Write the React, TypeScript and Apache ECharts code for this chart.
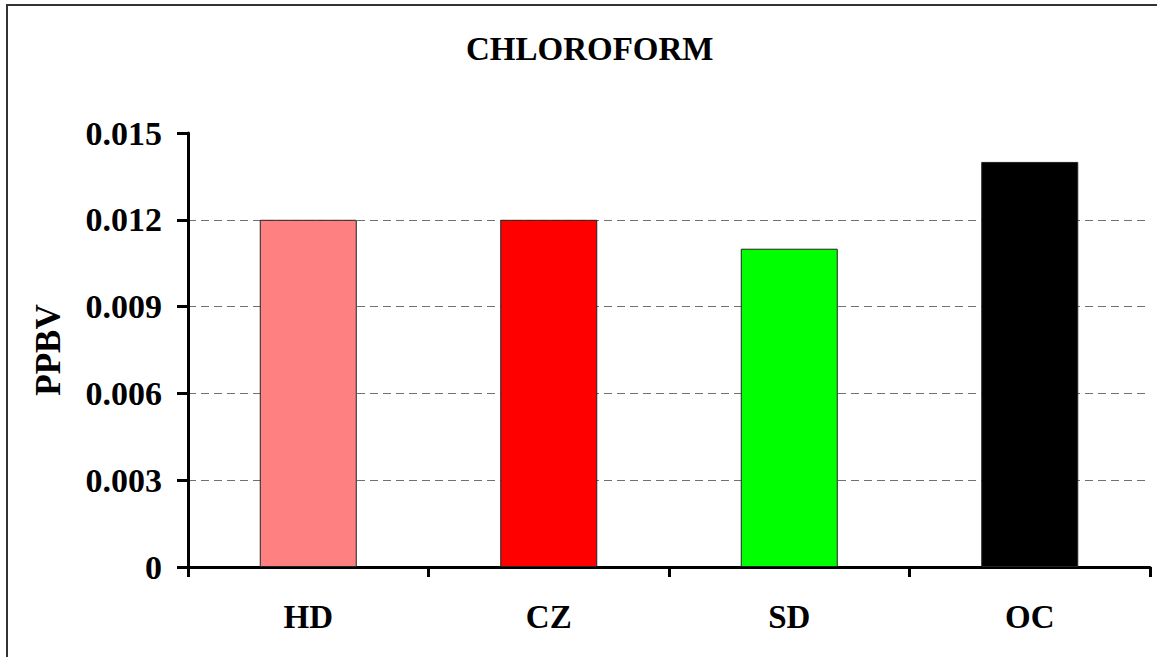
import React, { useEffect, useRef } from "react";
import * as echarts from "echarts";

const categories = ["HD", "CZ", "SD", "OC"];
const values = [0.012, 0.012, 0.011, 0.014];
const barColors = ["#FF8080", "#FF0000", "#00FF00", "#000000"];
const yTicks = { min: 0, max: 0.015, interval: 0.003 };
const titleText = "CHLOROFORM";
const yName = "PPBV";

const FONT = "'Liberation Serif', 'Times New Roman', serif";

export default function App() {
  const ref = useRef<HTMLDivElement>(null);
  useEffect(() => {
    if (!ref.current) return;
    const chart = echarts.init(ref.current, null, { renderer: "svg" });
    chart.setOption({
      animation: false,
      backgroundColor: "#ffffff",
      title: {
        text: titleText,
        left: 461,
        top: 27,
        textStyle: { fontFamily: FONT, fontWeight: "bold", fontSize: 33, color: "#000" },
      },
      graphic: [
        {
          type: "rect",
          shape: { x: 7, y: 5, width: 1170, height: 680 },
          style: { fill: "none", stroke: "#333", lineWidth: 2 },
          silent: true,
        },
      ],
      grid: { left: 188, right: 7, top: 133, bottom: 90, containLabel: false },
      xAxis: {
        type: "category",
        data: categories,
        boundaryGap: true,
        axisLine: { show: true, lineStyle: { color: "#000", width: 3 } },
        axisTick: { show: true, length: 10, lineStyle: { color: "#000", width: 3 } },
        axisLabel: {
          margin: 33,
          fontFamily: FONT,
          fontWeight: "bold",
          fontSize: 33,
          color: "#000",
        },
      },
      yAxis: {
        type: "value",
        min: yTicks.min,
        max: yTicks.max,
        interval: yTicks.interval,
        name: yName,
        nameLocation: "middle",
        nameGap: 122,
        nameRotate: 90,
        nameTextStyle: { fontFamily: FONT, fontWeight: "bold", fontSize: 35, color: "#000" },
        axisLine: { show: true, lineStyle: { color: "#000", width: 3 } },
        axisTick: { show: true, length: 11, lineStyle: { color: "#000", width: 3 } },
        axisLabel: {
          margin: 26,
          fontFamily: FONT,
          fontWeight: "bold",
          fontSize: 34,
          color: "#000",
          formatter: (v: number) => (v === 0 ? "0" : v.toFixed(3)),
        },
        splitLine: {
          show: true,
          showMinLine: false,
          showMaxLine: false,
          lineStyle: { color: "#707070", width: 1, type: [8, 5] },
        },
      },
      series: [
        {
          type: "bar",
          barWidth: 97,
          data: values.map((v, i) => ({
            value: v,
            itemStyle: { color: barColors[i], borderColor: "#222", borderWidth: 1 },
          })),
        },
      ],
    });
    return () => chart.dispose();
  }, []);
  return (
    <div
      ref={ref}
      style={{ position: "absolute", left: 0, top: 0, width: 1157, height: 657, background: "#fff" }}
    />
  );
}
